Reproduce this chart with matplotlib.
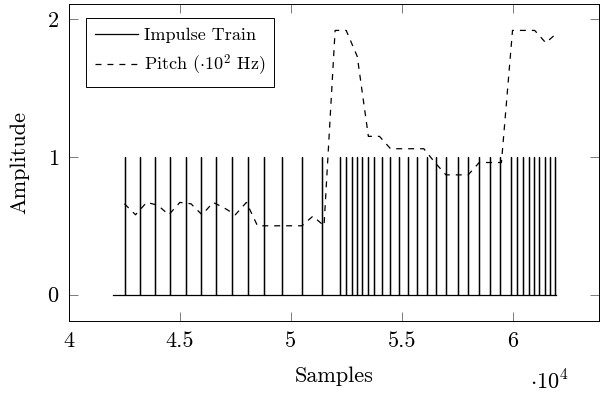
import matplotlib
matplotlib.use('Agg')
import matplotlib.pyplot as plt
import numpy as np

# ----------------------------------------
# data (x in units of 1e4 samples)
# ----------------------------------------
impulse_pos = [4.253, 4.318, 4.388, 4.456, 4.526, 4.593, 4.662, 4.734, 4.808, 4.878,
               4.962, 5.049, 5.139, 5.221, 5.249, 5.274, 5.298, 5.320, 5.347, 5.377,
               5.410, 5.449, 5.488, 5.530, 5.570, 5.615, 5.656, 5.699, 5.753, 5.801,
               5.850, 5.900, 5.944, 5.991, 6.022, 6.049, 6.075, 6.099, 6.121, 6.146,
               6.168, 6.191]
signal_start = 4.20
signal_end = 6.195

pitch_x = [4.25, 4.30, 4.35, 4.40, 4.45, 4.50, 4.55, 4.60, 4.65, 4.70,
           4.75, 4.80, 4.85, 4.90, 4.95, 5.00, 5.05, 5.10, 5.15, 5.20,
           5.25, 5.30, 5.35, 5.40, 5.45, 5.50, 5.55, 5.60, 5.65, 5.70,
           5.75, 5.80, 5.85, 5.90, 5.95, 6.00, 6.05, 6.10, 6.15, 6.20]
pitch = [0.66, 0.58, 0.67, 0.65, 0.58, 0.67, 0.66, 0.58, 0.67, 0.63,
         0.58, 0.67, 0.50, 0.50, 0.50, 0.50, 0.50, 0.57, 0.50, 1.92,
         1.92, 1.73, 1.15, 1.15, 1.06, 1.06, 1.06, 1.06, 0.96, 0.87,
         0.87, 0.87, 0.96, 0.96, 0.96, 1.92, 1.92, 1.92, 1.83, 1.90]

xticks = [4, 4.5, 5, 5.5, 6]
xticklabels = ['4', '4.5', '5', '5.5', '6']
yticks = [0, 1, 2]

# ----------------------------------------
# style (Computer Modern look)
# ----------------------------------------
plt.rcParams['font.family'] = 'serif'
plt.rcParams['font.serif'] = ['cmr10']
plt.rcParams['mathtext.fontset'] = 'cm'
plt.rcParams['axes.formatter.use_mathtext'] = True

# impulse train as one line: zero baseline with unit spikes
imp_x = [signal_start]
imp_y = [0]
for p in impulse_pos:
    imp_x += [p, p, p]
    imp_y += [0, 1, 0]
imp_x.append(signal_end)
imp_y.append(0)

fig = plt.figure(figsize=(6.0, 3.99), dpi=100)
ax = fig.add_axes([69 / 600, 1 - 321 / 399, 530 / 600, 317 / 399])

lw = 0.9
ax.plot(imp_x, imp_y, color='black', linewidth=lw, label='Impulse Train')
ax.plot(pitch_x, pitch, color='black', linewidth=lw,
        linestyle=(0, (4.3 / lw, 4.3 / lw)), label=r'Pitch ($\cdot 10^2$ Hz)')

ax.set_xlim(4.0, 6.39)
ax.set_ylim(-0.192, 2.112)
ax.set_xticks(xticks)
ax.set_xticklabels(xticklabels)
ax.set_yticks(yticks)
ax.tick_params(direction='in', length=6.5, width=0.6, color='0.4',
               top=True, right=True, labelsize=16)
ax.tick_params(axis='x', pad=7.5)
ax.tick_params(axis='y', pad=7)
for s in ax.spines.values():
    s.set_linewidth(0.7)

ax.set_xlabel('Samples', fontsize=16, labelpad=11)
ax.set_ylabel('Amplitude', fontsize=16, labelpad=13)
fig.text(549 / 600, 1 - 381 / 399, r'$\cdot 10^4$', fontsize=16,
         ha='center', va='center')

leg = ax.legend(loc='upper left', bbox_to_anchor=(0.032, 0.955), borderaxespad=0,
                fontsize=13, handlelength=2.4, handletextpad=0.3,
                fancybox=False, framealpha=1, edgecolor='black',
                borderpad=0.5, labelspacing=0.55)
leg.get_frame().set_linewidth(0.7)

fig.savefig('out.png', dpi=100)
